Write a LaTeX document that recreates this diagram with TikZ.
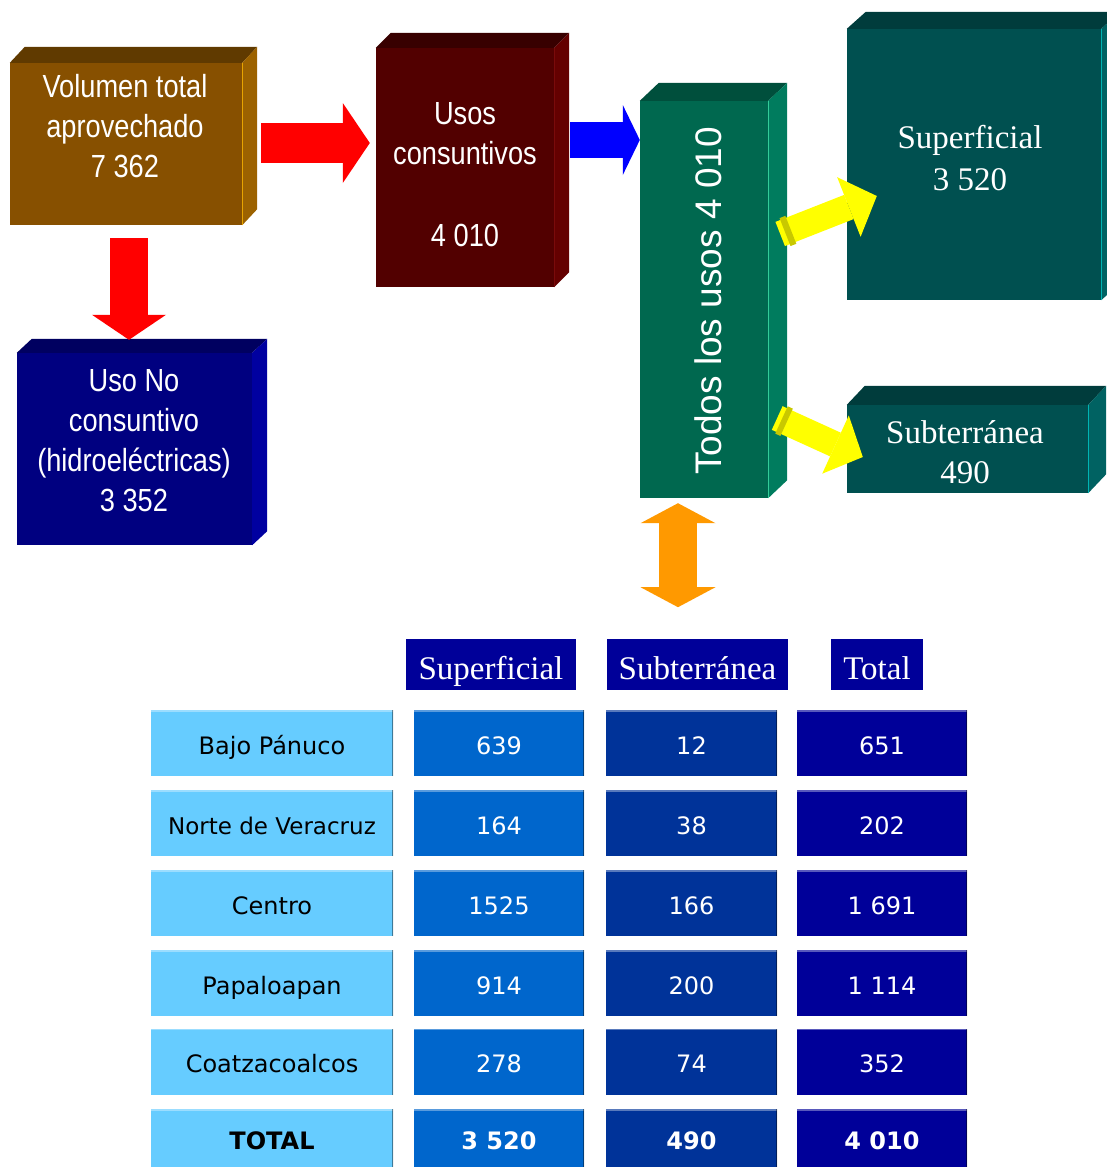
\documentclass[tikz,border=0pt]{standalone}
\usepackage{fontspec}
\setmainfont{Liberation Serif}
\newfontfamily\narrowsans[FakeStretch=0.85]{Liberation Sans}
\newfontfamily\plainsans{Liberation Sans}
\newfontfamily\cellsans{DejaVu Sans}
\usetikzlibrary{arrows.meta, calc}

\definecolor{volfront}{HTML}{875000}
\definecolor{voltop}{HTML}{603A00}
\definecolor{volside}{HTML}{9C6200}
\definecolor{voledge}{HTML}{E8A400}
\definecolor{usofront}{HTML}{520000}
\definecolor{usotop}{HTML}{380000}
\definecolor{usoside}{HTML}{640000}
\definecolor{usoedge}{HTML}{7A0A0A}
\definecolor{hydfront}{HTML}{000080}
\definecolor{hydtop}{HTML}{000060}
\definecolor{hydside}{HTML}{0000A0}
\definecolor{allfront}{HTML}{00684F}
\definecolor{alltop}{HTML}{004F3C}
\definecolor{allside}{HTML}{007C5E}
\definecolor{alledge}{HTML}{33CC99}
\definecolor{srcfront}{HTML}{005050}
\definecolor{srctop}{HTML}{003C3C}
\definecolor{srcside}{HTML}{006262}
\definecolor{srcedge}{HTML}{00B4B4}
\definecolor{arrowyellow}{HTML}{FFFF00}
\definecolor{ringyellow}{HTML}{C8C800}
\definecolor{arroworange}{HTML}{FF9900}
\definecolor{regionblue}{HTML}{66CCFF}
\definecolor{supblue}{HTML}{0066CC}
\definecolor{subblue}{HTML}{003399}
\definecolor{totblue}{HTML}{000099}

% top and side faces of a block, drawn from the corners of its front node
\newcommand{\blockfaces}[5]{%
  \fill[#3] (#1.north west) -- ([shift={(#2)}]#1.north west) -- ([shift={(#2)}]#1.north east) -- (#1.north east) -- cycle;
  \fill[#4] (#1.north east) -- ([shift={(#2)}]#1.north east) -- ([shift={(#2)}]#1.south east) -- (#1.south east) -- cycle;
  \draw[#5, line width=1.2pt] (#1.north east) -- (#1.south east);
}

\begin{document}
\begin{tikzpicture}[
    x=1pt, y=-1pt,
    block/.style={rectangle, inner sep=0pt},
    blocktext/.style={text=white, align=center, inner sep=0pt, font=\narrowsans\fontsize{32}{40}\selectfont},
    serifblocktext/.style={text=white, align=center, inner sep=0pt, font=\fontsize{33}{42}\selectfont},
    redarrow/.style={-{Triangle[length=27pt, width=80pt, line width=0pt]}, line width=40pt, red},
    downarrow/.style={-{Triangle[length=25pt, width=74pt, line width=0pt]}, line width=38pt, red},
    bluearrow/.style={-{Triangle[length=17pt, width=70pt, line width=0pt]}, line width=36pt, blue},
    yellowarrow/.style={-{Triangle[length=30pt, width=64pt, line width=0pt]}, line width=26pt, arrowyellow},
    yellowring/.style={line width=30pt, ringyellow},
    orangearrow/.style={{Triangle[length=20pt, width=75pt, line width=0pt]}-{Triangle[length=20pt, width=75pt, line width=0pt]}, line width=38pt, arroworange},
    headcell/.style={fill=totblue, text=white, inner sep=0pt, minimum height=51pt, text height=29pt, text depth=0pt, font=\fontsize{33}{40}\selectfont},
    cell/.style={inner sep=0pt, minimum height=66pt, text height=22pt, text depth=0pt, font=\cellsans\fontsize{24}{28}\selectfont,
        path picture={
            \draw[white, opacity=0.35, line width=3pt] (path picture bounding box.north west) -- (path picture bounding box.north east);
            \draw[black, opacity=0.4, line width=3pt] (path picture bounding box.north east) -- (path picture bounding box.south east);
        }},
    regioncell/.style={cell, fill=regionblue, minimum width=242pt},
    supcell/.style={cell, fill=supblue, text=white, minimum width=170pt},
    subcell/.style={cell, fill=subblue, text=white, minimum width=171pt},
    totcell/.style={cell, fill=totblue, text=white, minimum width=170pt},
    totalrow/.style={minimum height=58pt, font=\cellsans\bfseries\fontsize{24}{28}\selectfont},
]
    \useasboundingbox (0,0) rectangle (1107,1167);

    % Blocks
    \node[block, fill=volfront, minimum width=232pt, minimum height=162pt] (vol) at (126,144) {};
    \blockfaces{vol}{15,-16}{voltop}{volside}{voledge}
    \node[blocktext] (vol-label) at (125,126.5) {Volumen total\\aprovechado\\7 362};

    \node[block, fill=usofront, minimum width=178pt, minimum height=239pt] (uso) at (465,167.5) {};
    \blockfaces{uso}{15,-15}{usotop}{usoside}{usoedge}
    \node[blocktext] (uso-label) at (465,174.5) {Usos\\consuntivos\\[42pt]4 010};

    \node[block, fill=hydfront, minimum width=235pt, minimum height=192pt] (hyd) at (134.5,449) {};
    \blockfaces{hyd}{15,-14}{hydtop}{hydside}{hydside}
    \node[blocktext] (hyd-label) at (134,440.5) {Uso No\\consuntivo\\(hidroeléctricas)\\3 352};

    \node[block, fill=allfront, minimum width=128pt, minimum height=397pt] (todos) at (704,299.5) {};
    \blockfaces{todos}{19,-18}{alltop}{allside}{alledge}
    \node[rotate=90, text=white, inner sep=0pt, font=\plainsans\fontsize{37}{44}\selectfont] (todos-label) at (708,301) {Todos los usos 4 010};

    \node[block, fill=srcfront, minimum width=254pt, minimum height=271pt] (sup) at (974,164.5) {};
    \blockfaces{sup}{19,-17}{srctop}{srcside}{srcedge}
    \node[serifblocktext] (sup-label) at (970,158) {Superficial\\3 520};

    \node[block, fill=srcfront, minimum width=241pt, minimum height=88pt] (sub) at (967.5,449) {};
    \blockfaces{sub}{18,-19}{srctop}{srcside}{srcedge}
    \node[serifblocktext, font=\fontsize{33}{40}\selectfont] (sub-label) at (965,452) {Subterránea\\490};

    % Arrows
    \draw[redarrow] ([shift={(19,-1)}]vol.east) -- ([shift={(-6,-24.5)}]uso.west);
    \draw[downarrow] ([shift={(3,13)}]vol.south) -- ([shift={(-5.5,-13)}]hyd.north);
    \draw[bluearrow] ([shift={(16,-27.5)}]uso.east) -- ([shift={(0,-159.5)}]todos.west);

    \coordinate (supfrom) at ([shift={(12,-65.5)}]todos.east);
    \coordinate (supto) at ([shift={(30,31.5)}]sup.west);
    \coordinate (subfrom) at ([shift={(9,118.5)}]todos.east);
    \coordinate (subto) at ([shift={(16,8)}]sub.west);
    \draw[yellowarrow] (supfrom) -- (supto);
    \draw[yellowring] ($(supfrom)!0.05!(supto)$) -- ($(supfrom)!0.11!(supto)$);
    \draw[yellowarrow] (subfrom) -- (subto);
    \draw[yellowring] ($(subfrom)!0.05!(subto)$) -- ($(subfrom)!0.11!(subto)$);

    \draw[orangearrow] ([shift={(-26,5)}]todos.south) -- ([shift={(-26,109)}]todos.south);

    % Table header
    \node[headcell, minimum width=170pt] (h-sup) at (491,664.5) {Superficial};
    \node[headcell, minimum width=181pt] (h-sub) at (697.5,664.5) {Subterránea};
    \node[headcell, minimum width=92pt] (h-tot) at (877,664.5) {Total};

    % Table rows
    \node[regioncell] (r1-name) at (272,743) {Bajo Pánuco};
    \node[supcell] (r1-sup) at (499,743) {639};
    \node[subcell] (r1-sub) at (691.5,743) {12};
    \node[totcell] (r1-tot) at (882,743) {651};

    \node[regioncell, font=\cellsans\fontsize{23}{28}\selectfont] (r2-name) at (272,823) {Norte de Veracruz};
    \node[supcell] (r2-sup) at (499,823) {164};
    \node[subcell] (r2-sub) at (691.5,823) {38};
    \node[totcell] (r2-tot) at (882,823) {202};

    \node[regioncell] (r3-name) at (272,903) {Centro};
    \node[supcell] (r3-sup) at (499,903) {1525};
    \node[subcell] (r3-sub) at (691.5,903) {166};
    \node[totcell] (r3-tot) at (882,903) {1 691};

    \node[regioncell] (r4-name) at (272,983) {Papaloapan};
    \node[supcell] (r4-sup) at (499,983) {914};
    \node[subcell] (r4-sub) at (691.5,983) {200};
    \node[totcell] (r4-tot) at (882,983) {1 114};

    \node[regioncell] (r5-name) at (272,1061.5) {Coatzacoalcos};
    \node[supcell] (r5-sup) at (499,1061.5) {278};
    \node[subcell] (r5-sub) at (691.5,1061.5) {74};
    \node[totcell] (r5-tot) at (882,1061.5) {352};

    \node[regioncell, totalrow] (r6-name) at (272,1138) {TOTAL};
    \node[supcell, totalrow] (r6-sup) at (499,1138) {3 520};
    \node[subcell, totalrow] (r6-sub) at (691.5,1138) {490};
    \node[totcell, totalrow] (r6-tot) at (882,1138) {4 010};

\end{tikzpicture}
\end{document}
